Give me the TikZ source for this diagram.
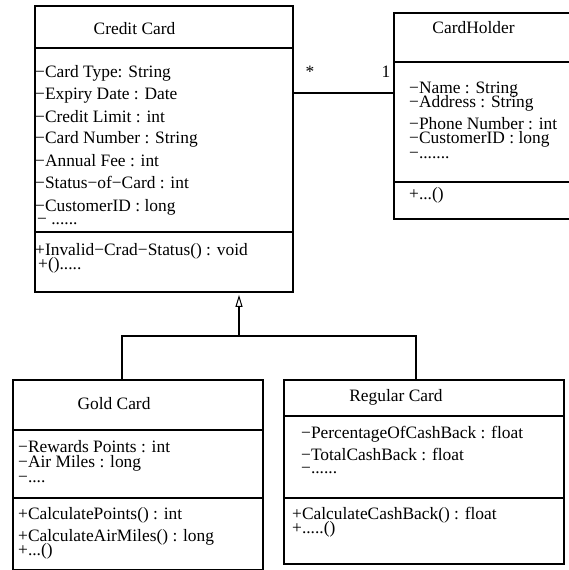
\documentclass[tikz,border=0pt]{standalone}
\usepackage{fontspec}
\setmainfont{Liberation Serif}
\usetikzlibrary{arrows.meta}
\tikzstyle{classbox}=[draw,line width=2.4pt,anchor=north west,inner sep=0pt]
\tikzstyle{member}=[anchor=base west,inner sep=0pt]
\tikzstyle{title}=[anchor=base,inner sep=0pt]
\tikzstyle{link}=[line width=2.4pt]

\begin{document}
\begin{tikzpicture}[x=1pt,y=-1pt,font=\fontsize{17.4}{20}\selectfont]
\useasboundingbox (0,0) rectangle (569,570);
\clip (0,0) rectangle (569,570);
% classes
\node[classbox,minimum width=258pt,minimum height=286pt] (cc) at (34,5) {};
\node[classbox,minimum width=200pt,minimum height=206pt] (ch) at (393,12) {};
\node[classbox,minimum width=250pt,minimum height=190pt] (gc) at (12,379) {};
\node[classbox,minimum width=280pt,minimum height=184pt] (rc) at (283,379) {};
\foreach \b/\y in {cc/48,cc/232,ch/62,ch/182,gc/430,gc/498,rc/416,rc/498}
  \draw[link] (\b.west |- 0,\y) -- (\b.east |- 0,\y);
% names
\node[title] (cc-t) at (134.5,34) {Credit Card};
\node[title] (ch-t) at (473.5,33) {CardHolder};
\node[title] (gc-t) at (114,409) {Gold Card};
\node[title] (rc-t) at (396,401) {Regular Card};
% members
\foreach \x/\y/\t [count=\i] in {35/77/{−Card Type: String},35/99/{−Expiry Date : Date},
    35/122/{−Credit Limit : int},35/143/{−Card Number : String},35/166/{−Annual Fee : int},
    35/188/{−Status−of−Card : int},35/211/{−CustomerID : long},37/224/{− ......},
    35/255/{+Invalid−Crad−Status() : void},38/269/{+().....}}
  \node[member] (cc-\i) at (\x,\y) {\t};
\foreach \y/\t [count=\i] in {93/{−Name : String},107/{−Address : String},
    129/{−Phone Number : int},143/{−CustomerID : long},158/{−.......},199/{+...()}}
  \node[member] (ch-\i) at (409,\y) {\t};
\foreach \y/\t [count=\i] in {452/{−Rewards Points : int},467/{−Air Miles : long},482/{−....},
    519/{+CalculatePoints() : int},541/{+CalculateAirMiles() : long},555/{+...()}}
  \node[member] (gc-\i) at (18,\y) {\t};
\foreach \x/\y/\t [count=\i] in {301/438/{−PercentageOfCashBack : float},301/460/{−TotalCashBack : float},
    301/473/{−......},292/519/{+CalculateCashBack() : float},292/533/{+.....()}}
  \node[member] (rc-\i) at (\x,\y) {\t};
% association
\draw[link] (cc.east |- 0,93) -- (ch.west |- 0,93);
\node[title] (many) at (310,77) {*};
\node[title] (one) at (386,77) {1};
% generalization
\coordinate (fork) at (239,336);
\draw[link] (gc.north -| 122,0) |- (fork) -| (rc.north -| 416,0);
\draw[link,shorten >=1.5pt,-{Triangle[open,length=12pt,width=7pt,line width=1pt]}] (fork) -- (cc.south -| fork);
\end{tikzpicture}
\end{document}
